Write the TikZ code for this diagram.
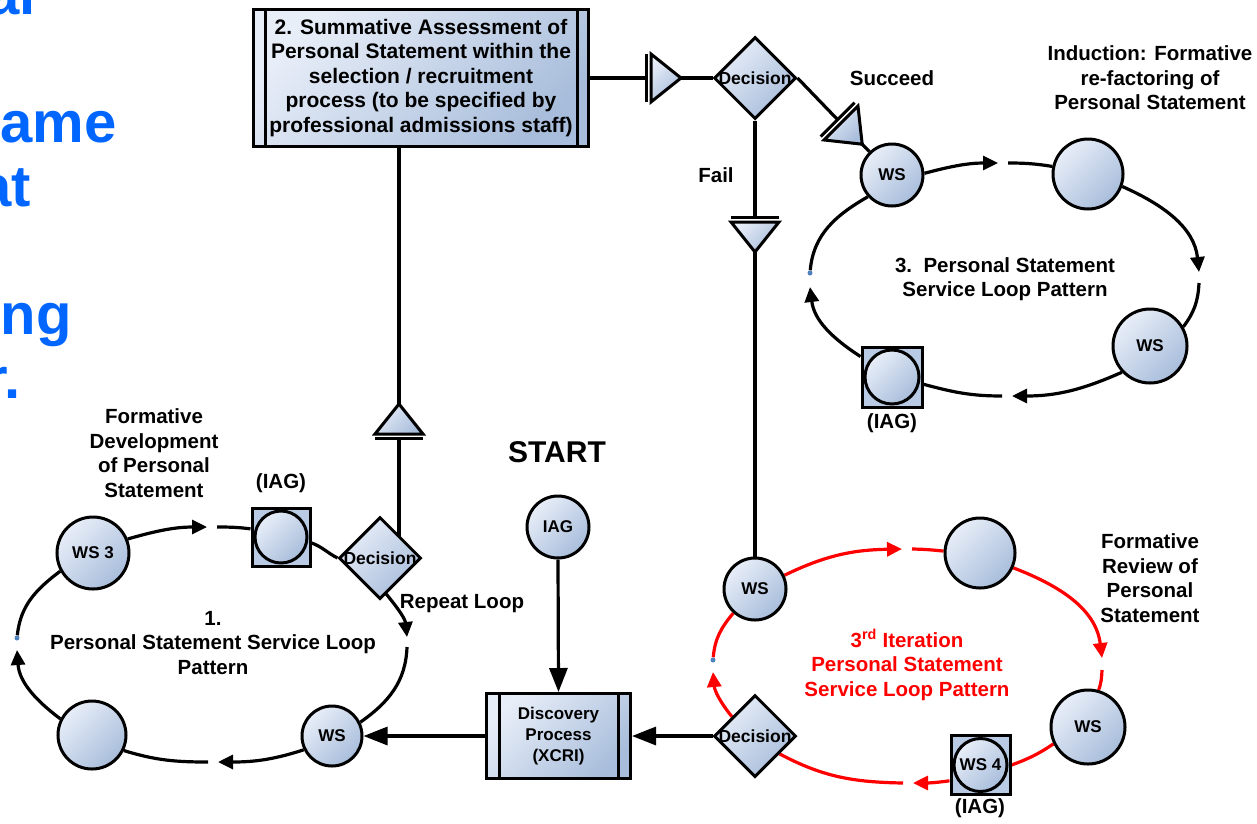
\documentclass[tikz,border=0pt]{standalone}
\usepackage{fontspec}
\setmainfont{Liberation Sans}
\usetikzlibrary{shapes.geometric,arrows.meta,calc}
\definecolor{nlight}{RGB}{232,238,248}
\definecolor{ndark}{RGB}{168,189,219}
\definecolor{sqfill}{RGB}{184,202,228}
\definecolor{blueTxt}{RGB}{0,102,255}
\definecolor{dotblue}{RGB}{79,129,189}
\pgfdeclarelayer{bg}
\pgfsetlayers{bg,main}
\tikzset{
 lbl/.style={font=\bfseries\fontsize{20.5}{24.5}\selectfont, align=center, inner sep=0pt},
 ntxt/.style={font=\bfseries\fontsize{17}{20}\selectfont},
 shd/.style={top color=nlight, bottom color=ndark, shading angle=45},
 circ/.style={circle, draw, line width=3pt, shd, inner sep=0pt, ntxt},
 sqr/.style={rectangle, draw, line width=3pt, fill=sqfill, minimum size=58pt, inner sep=0pt},
 dia/.style={diamond, draw, line width=3pt, shd, minimum size=82pt, inner sep=0pt, font=\bfseries\fontsize{17.5}{20}\selectfont},
 proc/.style={rectangle, draw, line width=3pt, shd, inner sep=0pt, align=center},
 wire/.style={line width=3.2pt},
 bigarr/.style={wire, -{Triangle[length=24pt,width=18pt]}},
 looparr/.style={wire, -{Triangle[length=15pt,width=14pt]}},
 lpdot/.style={circle, fill=dotblue, inner sep=0pt, minimum size=5pt},
 frag/.style={font=\bfseries\fontsize{58}{63}\selectfont, text=blueTxt, inner sep=0pt, anchor=base east},
 conn/.pic={
  \draw[line width=3pt, shd, line join=miter] (0,-24) -- (30,0) -- (0,24) -- cycle;
  \draw[line width=3pt] (-4.8,-24) -- (-4.8,24);
  \coordinate (-apex) at (30,0);
  \coordinate (-base) at (-6,0);
 }
}
\begin{document}
\begin{tikzpicture}[x=1pt,y=-1pt]
\useasboundingbox (0,0) rectangle (1257,823);

% clipped blue text on the left edge
\node[frag] (f1) at (36,14) {al};
\node[frag] (f2) at (117,142) {same};
\node[frag] (f3) at (31,206) {at};
\node[frag] (f4) at (72,334) {ing};
\node[frag] (f5) at (21,398) {r.};

% boxes
\node[proc, minimum width=335pt, minimum height=137pt, font=\bfseries\fontsize{21}{24.5}\selectfont] (box2) at (421,78)
 {2. Summative Assessment of\\Personal Statement within the\\selection / recruitment\\process (to be specified by\\professional admissions staff)};
\draw[line width=3pt] ([xshift=13pt]box2.north west) -- ([xshift=13pt]box2.south west);
\draw[line width=3pt] ([xshift=-13pt]box2.north east) -- ([xshift=-13pt]box2.south east);

\node[proc, minimum width=144pt, minimum height=85pt, font=\bfseries\fontsize{17}{21}\selectfont] (disc) at (558.5,736) {Discovery\\Process\\(XCRI)};
\draw[line width=3pt] ([xshift=14pt]disc.north west) -- ([xshift=14pt]disc.south west);
\draw[line width=3pt] ([xshift=-14pt]disc.north east) -- ([xshift=-14pt]disc.south east);

% decisions
\node[dia] (dec1) at (380,558) {\makebox[0pt]{Decision}};
\node[dia] (dec2) at (755,78) {\makebox[0pt]{Decision}};
\node[dia] (decr) at (755,736) {\makebox[0pt]{Decision}};

% loop 1
\node[circ, minimum size=72pt] (ws3) at (93,553) {WS 3};
\node[sqr] (iag1) at (281,537) {};
\node[circ, minimum size=52pt] (iag1c) at (281,537) {};
\node[circ, minimum size=60pt] (ws1b) at (332,736) {WS};
\node[circ, minimum size=68pt] (e1) at (92,735) {};
\node[lpdot] (dot1) at (17,638) {};

% start
\node[circ, minimum size=62pt] (iag0) at (558,527) {IAG};

% loop 3
\node[circ, minimum size=62pt] (ws3a) at (892,175) {WS};
\node[circ, minimum size=70pt] (e3) at (1088,174) {};
\node[circ, minimum size=74pt] (ws3b) at (1150,346) {WS};
\node[sqr, minimum size=60pt] (iag3) at (892,377) {};
\node[circ, minimum size=54pt] (iag3c) at (892,377) {};
\node[lpdot] (dot3) at (810,273) {};

% red loop
\node[circ, minimum size=62pt] (wsr1) at (755,589) {WS};
\node[circ, minimum size=70pt] (er) at (980,553) {};
\node[circ, minimum size=74pt] (wsr2) at (1088,727) {WS};
\node[sqr, minimum size=59pt] (ws4) at (980.5,765) {};
\node[circ, minimum size=53pt] (ws4c) at (980.5,765) {WS 4};
\node[lpdot] (dotr) at (713,660) {};

% connector symbols
\pic[rotate=90] (t1) at (399,434) {conn};
\pic (t2) at (651,78) {conn};
\pic[rotate=-45] (t3) at (841,123) {conn};
\pic[rotate=-90] (t4) at (755,222) {conn};

% free ends of loop arcs
\coordinate (a1) at (207,527); \coordinate (a1s) at (217,527);
\coordinate (a2) at (407,637); \coordinate (a2s) at (407,647);
\coordinate (a3) at (218,762); \coordinate (a3s) at (208,762);
\coordinate (a4) at (17,650);
\coordinate (b1) at (998,163); \coordinate (b1s) at (1008,163);
\coordinate (b2) at (1199,272); \coordinate (b2s) at (1199,283);
\coordinate (b3) at (1012,396); \coordinate (b3s) at (1002,396);
\coordinate (b4) at (810,287);
\coordinate (r1) at (902,549); \coordinate (r1s) at (912,549);
\coordinate (r2) at (1102,658); \coordinate (r2s) at (1102,670);
\coordinate (r3) at (913,783); \coordinate (r3s) at (903,783);
\coordinate (r4) at (713,672);

% labels
\node[lbl] (tSucceed) at (892,78) {Succeed};
\node[lbl] (tFail) at (716,175) {Fail};
\node[lbl] (tRepeat) at (462,604) {Repeat Loop};
\node[lbl, font=\bfseries\fontsize{30}{34}\selectfont] (tStart) at (557,452) {START};
\node[lbl] (tIag1) at (281,483) {(IAG)};
\node[lbl] (tIag3) at (892,423) {(IAG)};
\node[lbl] (tIagR) at (980,808) {(IAG)};
\node[lbl] (tForm1) at (154,453) {Formative\\Development\\of Personal\\Statement};
\node[lbl] (tLoop1) at (213,643) {1.\\Personal Statement Service Loop\\Pattern};
\node[lbl] (tLoop3) at (1005,279) {3.\ \ Personal Statement\\Service Loop Pattern};
\node[lbl] (tInd) at (1150,78) {Induction: Formative\\re-factoring of\\Personal Statement};
\node[lbl] (tRev) at (1150,578) {Formative\\Review of\\Personal\\Statement};
\node[lbl, text=red] (tRed) at (907,665) {3\textsuperscript{rd} Iteration\\Personal Statement\\Service Loop Pattern};

\begin{pgfonlayer}{bg}
% main flow
\draw[wire] (t1-apex) -- (t1-apex |- box2.south);
\draw[wire] (t1-base) -- (t1-base |- dec1.center);
\draw[wire] (box2.east) -- (t2-base);
\draw[wire] (t2-apex) -- (dec2.west);
\draw[wire] (dec2.east) -- (t3-base);
\draw[wire] (t3-apex) -- (ws3a);
\draw[wire] (dec2.south) -- (t4-base);
\draw[wire] (t4-apex) -- (wsr1.north);
\draw[bigarr] (iag0.south) -- (disc.north);
\draw[bigarr] (decr.west) -- (disc.east);
\draw[bigarr] (disc.west) -- (ws1b.east);

% loop 1
\draw[looparr] (ws3.22) to[out=16,in=180] (a1);
\draw[wire] (a1s) to[out=0,in=173] (iag1.165);
\draw[wire] (iag1.-11) to[out=-20,in=153] (dec1.west);
\draw[looparr] (dec1.-80) to[out=-51,in=96] (a2);
\draw[wire] (a2s) to[out=-92,in=35] (ws1b.26);
\draw[looparr] (ws1b.206) to[out=-162,in=0] (a3);
\draw[wire] (a3s) to[out=180,in=-17] (e1.-26);
\draw[looparr] (e1.153) to[out=143,in=-86] (a4);
\draw[wire] (dot1) to[out=84,in=-143] (ws3.209);

% loop 3
\draw[looparr] (ws3a.3) to[out=15,in=180] (b1);
\draw[wire] (b1s) to[out=0,in=171] (e3.168);
\draw[looparr] (e3.-20) to[out=-24,in=96] (b2);
\draw[wire] (b2s) to[out=-93,in=53] (ws3b.30);
\draw[looparr] (ws3b.223) to[out=-156,in=0] (b3);
\draw[wire] (b3s) to[out=180,in=-15] (iag3.-13);
\draw[looparr] (iag3.147) to[out=147,in=-83] (b4);
\draw[wire] (dot3) to[out=85,in=-150] (ws3a.222);

% red loop
\draw[looparr, red] (wsr1.25) to[out=26,in=181] (r1);
\draw[wire, red] (r1s) to[out=-1,in=174] (er.177);
\draw[looparr, red] (er.-24) to[out=-21,in=97] (r2);
\draw[wire, red] (r2s) to[out=-93,in=70] (wsr2.74);
\draw[wire, red] (wsr2.206) to[out=-146,in=20] (ws4.east);
\draw[looparr, red] (ws4.207) to[out=-172,in=0] (r3);
\draw[wire, red] (r3s) to[out=179,in=-28] (decr.-36);
\draw[looparr, red] (decr.140) to[out=129,in=-85] (r4);
\draw[wire, red] (dotr) to[out=85,in=-130] (wsr1.228);
\end{pgfonlayer}
\end{tikzpicture}
\end{document}
